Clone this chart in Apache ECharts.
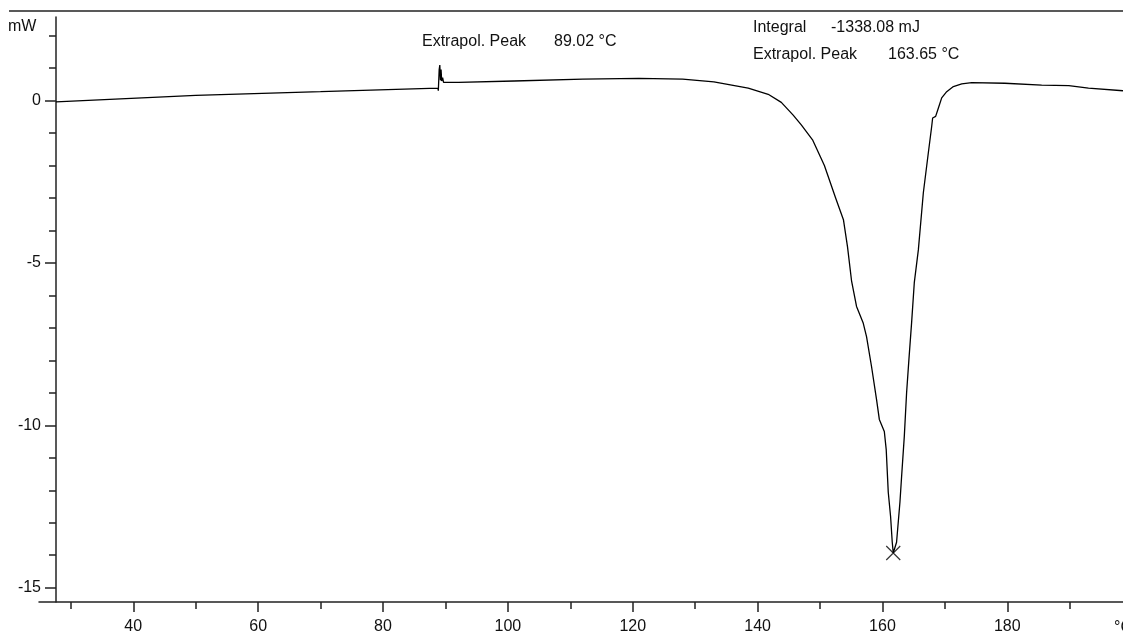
<!DOCTYPE html>
<html>
<head>
<meta charset="utf-8">
<script src="https://cdn.jsdelivr.net/npm/echarts@6/dist/echarts.min.js"></script>
<style>html,body{margin:0;padding:0;background:#fff}#c{width:1123px;height:635px}</style>
</head>
<body>
<div id="c"></div>
<script>
// Temperature (°C)
var temperature = [27.62, 50, 70, 88.8, 88.86, 89.0, 89.1, 89.2, 89.3, 89.4, 89.55, 89.7, 92.1, 101, 112, 121, 128, 133, 138.5, 141.7, 143.8, 145.7, 147.0, 148.8, 150.7, 152.5, 153.75, 154.4, 155.05, 155.85, 156.9, 157.45, 158.25, 159.05, 159.5, 160.3, 160.6, 160.93, 161.3, 161.57, 161.73, 162.26, 162.8, 163.07, 163.5, 163.87, 164.24, 164.67, 165.1, 165.75, 166.55, 167.35, 167.88, 168.04, 168.52, 168.96, 169.49, 170.29, 171.36, 172.7, 174.3, 179.6, 185.5, 189.85, 193.0, 198.53];
// Heat flow (mW)
var heatFlow = [-0.04, 0.16, 0.27, 0.38, 0.30, 0.95, 1.09, 0.62, 0.95, 0.60, 0.70, 0.56, 0.56, 0.60, 0.66, 0.68, 0.66, 0.57, 0.38, 0.19, -0.06, -0.45, -0.75, -1.21, -2.0, -3.0, -3.67, -4.5, -5.55, -6.34, -6.84, -7.27, -8.19, -9.2, -9.82, -10.19, -10.74, -12.06, -12.8, -13.6, -13.93, -13.6, -12.37, -11.57, -10.34, -8.99, -7.97, -6.84, -5.61, -4.6, -2.84, -1.61, -0.81, -0.54, -0.49, -0.23, 0.08, 0.27, 0.43, 0.51, 0.55, 0.53, 0.47, 0.46, 0.38, 0.30];
var peakPoint = [161.73, -13.93];
var xMajorTicks = [40, 60, 80, 100, 120, 140, 160, 180];
var xMinorTicks = [30, 50, 70, 90, 110, 130, 150, 170, 190];
var yMajorTicks = [-15, -10, -5, 0];
var yMinorTicks = [-14, -13, -12, -11, -9, -8, -7, -6, -4, -3, -2, -1, 1, 2];
var annotations = [
  {text: 'Extrapol. Peak', x: 422, y: 43},
  {text: '89.02 °C', x: 554, y: 43},
  {text: 'Integral', x: 753, y: 29},
  {text: '-1338.08 mJ', x: 831, y: 29},
  {text: 'Extrapol. Peak', x: 753, y: 56},
  {text: '163.65 °C', x: 888, y: 56}
];

var data = temperature.map(function (t, i) { return [t, heatFlow[i]]; });
var FONT = 'Liberation Sans, Arial, sans-serif';
var AX = '#222';
var xMin = 24.9, xMax = 198.53, yMin = -15.44, yMax = 2.57;

var chart = echarts.init(document.getElementById('c'), null, {renderer: 'canvas'});
var graphics = annotations.map(function (a) {
  return {type: 'text', left: a.x, top: a.y - 9, style: {text: a.text, fill: '#111', font: '16px ' + FONT}};
});
graphics.push({type: 'text', left: 8, top: 19, style: {text: 'mW', fill: '#111', font: '16px ' + FONT}});
graphics.push({type: 'text', left: 1114, top: 620, style: {text: '°C', fill: '#111', font: '16px ' + FONT}});
graphics.push({type: 'line', shape: {x1: 9, y1: 11, x2: 1123, y2: 11}, style: {stroke: AX, lineWidth: 1.5}});

chart.setOption({
  animation: false,
  backgroundColor: '#fff',
  grid: {left: 39, right: 0, top: 17, bottom: 32},
  xAxis: [
    {type: 'value', position: 'bottom', min: xMin, max: xMax,
     axisLine: {show: true, onZero: false, lineStyle: {color: AX, width: 1.5}},
     axisTick: {show: true, length: 10, customValues: xMajorTicks, lineStyle: {color: AX, width: 1.5}},
     axisLabel: {show: true, customValues: xMajorTicks, margin: 17, color: '#111', fontSize: 16, fontFamily: FONT},
     splitLine: {show: false}},
    {type: 'value', position: 'bottom', min: xMin, max: xMax,
     axisLine: {show: false, onZero: false},
     axisTick: {show: true, length: 7, customValues: xMinorTicks, lineStyle: {color: AX, width: 1.5}},
     axisLabel: {show: false},
     splitLine: {show: false}}
  ],
  yAxis: [
    {type: 'value', position: 'left', offset: -17, min: yMin, max: yMax,
     axisLine: {show: true, onZero: false, lineStyle: {color: AX, width: 1.5}},
     axisTick: {show: true, length: 11, customValues: yMajorTicks, lineStyle: {color: AX, width: 1.5}},
     axisLabel: {show: true, customValues: yMajorTicks, margin: 15, color: '#111', fontSize: 16, fontFamily: FONT},
     splitLine: {show: false}},
    {type: 'value', position: 'left', offset: -17, min: yMin, max: yMax,
     axisLine: {show: false, onZero: false},
     axisTick: {show: true, length: 7, customValues: yMinorTicks, lineStyle: {color: AX, width: 1.5}},
     axisLabel: {show: false},
     splitLine: {show: false}}
  ],
  series: [
    {type: 'line', xAxisIndex: 0, yAxisIndex: 0, data: data, showSymbol: false, symbol: 'none',
     lineStyle: {color: '#000', width: 1.3}, silent: true},
    {type: 'scatter', xAxisIndex: 0, yAxisIndex: 0, data: [peakPoint],
     symbol: 'path://M0,0L10,10M10,0L0,10', symbolSize: 14,
     itemStyle: {color: 'none', borderColor: '#000', borderWidth: 1.2}, silent: true}
  ],
  graphic: graphics
});
</script>
</body>
</html>
